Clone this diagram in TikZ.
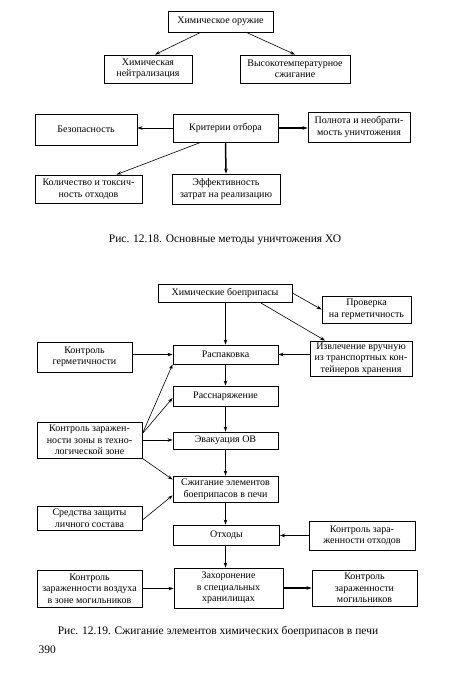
\documentclass[tikz,border=0pt]{standalone}
\usepackage{fontspec}
\setmainfont{Liberation Serif}
\usetikzlibrary{arrows.meta}

\begin{document}
\begin{tikzpicture}[x=1pt, y=-1pt,
    box/.style={draw, line width=0.9pt, align=center, inner sep=1pt,
      font=\fontsize{10}{11.5}\selectfont},
    arr/.style={-{Stealth[length=5pt,width=3.5pt]}, line width=0.6pt},
    bold arr/.style={arr, line width=1.5pt},
    caption/.style={font=\fontsize{11.5}{13}\selectfont}]
   % Sizes
   \pgfmathsetmacro{\colw}{105}
   \useasboundingbox (0,0) rectangle (450,693);

   % boxes, fig. 12.18
   \node[box, minimum width=105, minimum height=21] (weapon) at (220.5,21.5) {Химическое оружие};
   \node[box, minimum width=88, minimum height=28] (neutr) at (148,69) {Химическая\\нейтрализация};
   \node[box, minimum width=110, minimum height=28] (burn) at (295,69) {Высокотемпературное\\сжигание};
   \node[box, minimum width=\colw, minimum height=28] (crit) at (225.5,128) {Критерии отбора};
   \node[box, minimum width=102, minimum height=31] (safe) at (86,129.5) {Безопасность};
   \node[box, minimum width=102, minimum height=30] (full) at (359,127) {Полнота и необрати-\\мость уничтожения};
   \node[box, minimum width=107, minimum height=28] (toxic) at (88.5,189) {Количество и токсич-\\ность отходов};
   \node[box, minimum width=108, minimum height=30] (cost) at (226,189) {Эффективность\\затрат на реализацию};

   % arrows, fig. 12.18
   \draw[arr] ([xshift=-20]weapon.south) -- ([xshift=7]neutr.north);
   \draw[arr] ([xshift=26]weapon.south) -- (burn.north);
   \draw[arr] (crit.west) -- (crit.west -| safe.east);
   \draw[bold arr] (crit.east) -- (crit.east -| full.west);
   \draw[bold arr] (crit.south) -- (cost.north);
   \draw[arr] ([xshift=-25]crit.south) -- ([xshift=28]toxic.north);

   \node[caption] (cap1) at (225,240) {Рис. 12.18. Основные методы уничтожения ХО};

   % boxes, fig. 12.19
   \node[box, minimum width=134, minimum height=18] (ammo) at (225,293) {Химические боеприпасы};
   \node[box, minimum width=89, minimum height=27] (check) at (366.5,309.5) {Проверка\\на герметичность};
   \node[box, minimum width=95, minimum height=30] (tight) at (84.5,357) {Контроль\\герметичности};
   \node[box, minimum width=\colw, minimum height=19] (unpack) at (225.5,354.5) {Распаковка};
   \node[box, minimum width=102, minimum height=35] (extract) at (361,358.5) {Извлечение вручную\\из транспортных кон-\\тейнеров хранения};
   \node[box, minimum width=\colw, minimum height=20] (disarm) at (225.5,396) {Расснаряжение};
   \node[box, minimum width=105, minimum height=36] (zone) at (89.5,440) {Контроль заражен-\\ности зоны в техно-\\логической зоне};
   \node[box, minimum width=\colw, minimum height=17] (evac) at (225.5,440.5) {Эвакуация ОВ};
   \node[box, minimum width=\colw, minimum height=26] (incin) at (225.5,489) {Сжигание элементов\\боеприпасов в печи};
   \node[box, minimum width=105, minimum height=24] (ppe) at (89.5,518) {Средства защиты\\личного состава};
   \node[box, minimum width=106, minimum height=20] (waste) at (226.5,535) {Отходы};
   \node[box, minimum width=106, minimum height=29] (wctrl) at (362,535.5) {Контроль зара-\\женности отходов};
   \node[box, minimum width=105, minimum height=37] (air) at (89.5,588.5) {Контроль\\зараженности воздуха\\в зоне могильников};
   \node[box, minimum width=109, minimum height=40] (bury) at (228.5,588) {Захоронение\\в специальных\\хранилищах};
   \node[box, minimum width=105, minimum height=36] (grave) at (364.5,588) {Контроль\\зараженности\\могильников};

   % arrows, fig. 12.19
   \draw[arr] (ammo.south -| unpack.north) -- (unpack.north);
   \draw[arr] (ammo.east) -- (check.west);
   \draw[arr] ([xshift=35]ammo.south) -- ([xshift=-36]extract.north);
   \draw[arr] (tight.east |- unpack.west) -- (unpack.west);
   \draw[arr] (extract.west |- unpack.east) -- (unpack.east);
   \draw[arr] (unpack.south) -- (disarm.north);
   \draw[arr] (disarm.south) -- (evac.north);
   \draw[arr] (evac.south) -- (incin.north);
   \draw[arr] (incin.south) -- (incin.south |- waste.north);
   \draw[arr] (incin.south |- waste.south) -- (incin.south |- bury.north);
   \draw[arr] ([yshift=-12]zone.north east) -- (unpack.south west);
   \draw[arr] ([yshift=-12]zone.north east) -- ([yshift=-2]disarm.west);
   \draw[arr] (zone.east) -- (zone.east -| evac.west);
   \draw[arr] (zone.south east) -- ([yshift=-4]incin.north west);
   \draw[arr] ([yshift=-2]ppe.east) -- ([yshift=7]incin.south west);
   \draw[bold arr] (wctrl.west) -- (wctrl.west -| waste.east);
   \draw[arr] (air.east) -- (air.east -| bury.west);
   \draw[bold arr] (bury.east) -- (bury.east -| grave.west);

   % labels
   \node[caption] (cap2) at (218,632) {Рис. 12.19. Сжигание элементов химических боеприпасов в печи};
   \node[caption, anchor=west] (page) at (35,650) {390};
\end{tikzpicture}
\end{document}
